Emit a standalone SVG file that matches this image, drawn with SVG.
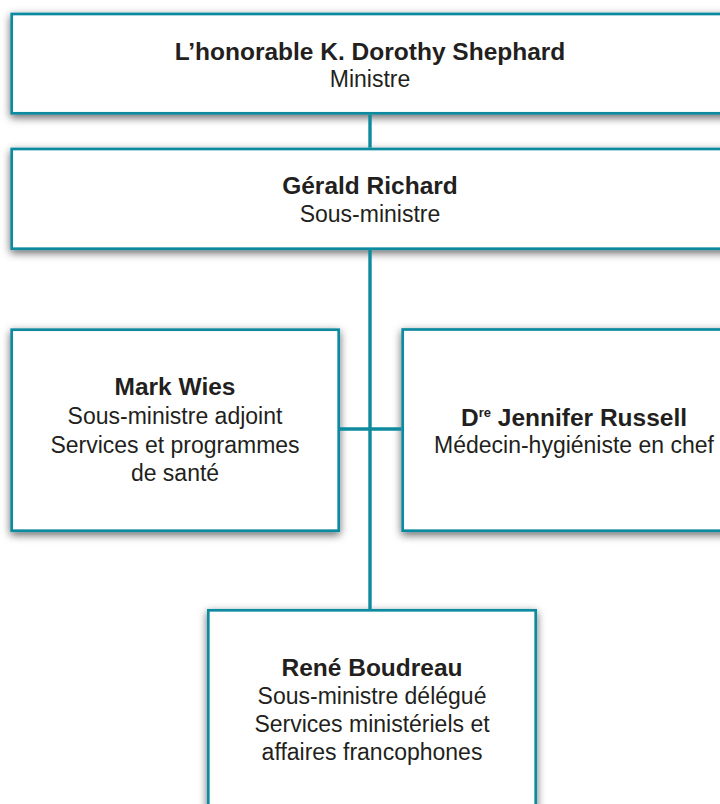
<svg xmlns="http://www.w3.org/2000/svg" width="720" height="804" viewBox="0 0 720 804">
<style>
.box{fill:#ffffff;stroke:#0e8a9f;stroke-width:2.7;filter:url(#sh)}
.conn{stroke:#0e8a9f;stroke-width:3.4;fill:none}
text{font-family:"Liberation Sans",Arial,sans-serif;fill:#231f20;text-anchor:middle}
.b{font-weight:bold;font-size:24.5px}
.r{font-size:23px}
</style>
<defs>
<filter id="sh" x="-10%" y="-20%" width="120%" height="140%">
<feDropShadow dx="0" dy="3" stdDeviation="4.5" flood-color="#000" flood-opacity="0.6"/>
</filter>
</defs>
<rect width="720" height="804" fill="#ffffff"/>
<g id="n1">
<rect class="box" x="11.7" y="14" width="740" height="99.3"/>
<text class="b" x="370" y="60">L’honorable K. Dorothy Shephard</text>
<text class="r" x="370" y="87">Ministre</text>
</g>
<g id="n2">
<rect class="box" x="11.7" y="149" width="740" height="99.7"/>
<text class="b" x="370" y="194">Gérald Richard</text>
<text class="r" x="370" y="222">Sous-ministre</text>
</g>
<g id="n3">
<rect class="box" x="11.7" y="329.7" width="327" height="201"/>
<text class="b" x="175" y="395">Mark Wies</text>
<text class="r" x="175" y="424">Sous-ministre adjoint</text>
<text class="r" x="175" y="453">Services et programmes</text>
<text class="r" x="175" y="481">de santé</text>
</g>
<g id="n4">
<rect class="box" x="402.7" y="329.5" width="360" height="201.2"/>
<text class="b" x="574" y="426">D<tspan font-size="13" dy="-9">re</tspan><tspan dy="9"> Jennifer Russell</tspan></text>
<text class="r" x="574" y="453">Médecin-hygiéniste en chef</text>
</g>
<g id="n5">
<rect class="box" x="208.3" y="610.3" width="327.4" height="220"/>
<text class="b" x="372" y="676">René Boudreau</text>
<text class="r" x="372" y="704">Sous-ministre délégué</text>
<text class="r" x="372" y="732">Services ministériels et</text>
<text class="r" x="372" y="760">affaires francophones</text>
</g>
<g id="connectors">
<line class="conn" x1="370" y1="114.6" x2="370" y2="147.7"/>
<line class="conn" x1="370" y1="250" x2="370" y2="609"/>
<line class="conn" x1="340" y1="429" x2="401.4" y2="429"/>
</g>
</svg>
